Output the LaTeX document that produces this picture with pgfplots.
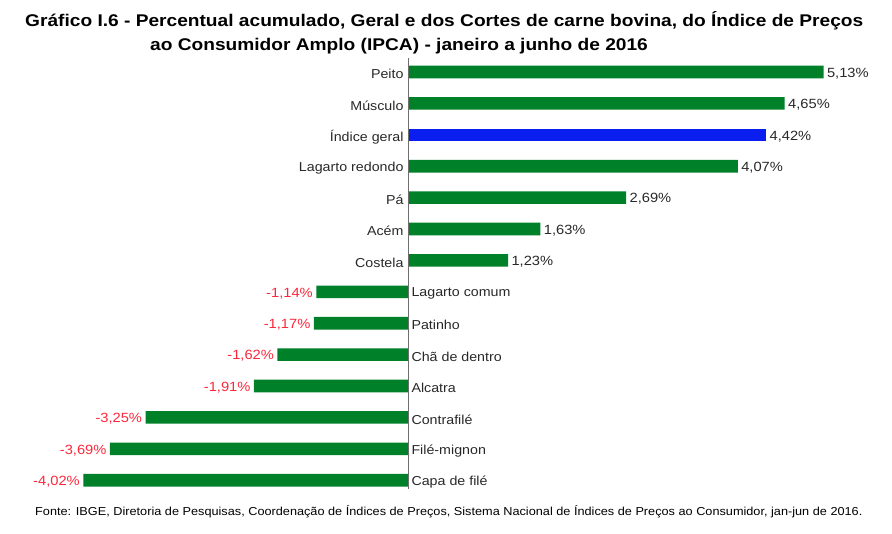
\documentclass[border=0pt]{standalone}
\usepackage{fontspec}
\setmainfont[FakeStretch=1.1]{Liberation Sans}
\newfontfamily\titlefont[FakeStretch=1.13]{Liberation Sans}
\usepackage{pgfplots}
\pgfplotsset{compat=1.18}
\definecolor{barGreen}{RGB}{0,128,40}
\definecolor{barBlue}{RGB}{10,30,240}
\definecolor{negRed}{RGB}{250,40,60}
\definecolor{txt}{RGB}{40,40,40}
\definecolor{axgray}{RGB}{110,110,110}
\begin{document}
\begin{tikzpicture}
\begin{axis}[
  width=892bp, height=534bp, scale only axis,
  xmin=-5.0494, xmax=5.9765,
  ymin=-2.293, ymax=14.713, y dir=reverse,
  hide axis, clip=false,
  font=\fontsize{13}{15}\selectfont,
]
% positive green bars
\addplot[xbar, bar shift=0pt, bar width=12.6bp, fill=barGreen, draw=none,
  nodes near coords, point meta=explicit symbolic,
  every node near coord/.append style={anchor=west, text=txt, yshift=-1.5bp, font=\fontsize{13.4}{15}\selectfont}]
  coordinates {(5.13,0) [5{,}13\%] (4.65,1) [4{,}65\%] (4.07,3) [4{,}07\%]
               (2.69,4) [2{,}69\%] (1.63,5) [1{,}63\%] (1.23,6) [1{,}23\%]};
% general index (blue)
\addplot[xbar, bar shift=0pt, bar width=12.6bp, fill=barBlue, draw=none,
  nodes near coords, point meta=explicit symbolic,
  every node near coord/.append style={anchor=west, text=txt, yshift=-1.5bp, font=\fontsize{13.4}{15}\selectfont}]
  coordinates {(4.42,2) [4{,}42\%]};
% negative green bars
\addplot[xbar, bar shift=0pt, bar width=12.6bp, fill=barGreen, draw=none,
  nodes near coords, point meta=explicit symbolic,
  every node near coord/.append style={anchor=east, text=negRed, yshift=-1.5bp, font=\fontsize{13.4}{15}\selectfont}]
  coordinates {(-1.14,7) [-1{,}14\%] (-1.17,8) [-1{,}17\%] (-1.62,9) [-1{,}62\%]
               (-1.91,10) [-1{,}91\%] (-3.25,11) [-3{,}25\%] (-3.69,12) [-3{,}69\%]
               (-4.02,13) [-4{,}02\%]};
% category labels, left of the axis line
\addplot[draw=none, mark=none, nodes near coords, point meta=explicit symbolic,
  every node near coord/.append style={anchor=east, text=txt, xshift=-1.5bp, yshift=-2bp, font=\fontsize{13}{15}\selectfont}]
  coordinates {(0,0) [Peito] (0,1) [Músculo] (0,2) [Índice geral] (0,3) [Lagarto redondo]
               (0,4) [Pá] (0,5) [Acém] (0,6) [Costela]};
% category labels, right of the axis line
\addplot[draw=none, mark=none, nodes near coords, point meta=explicit symbolic,
  every node near coord/.append style={anchor=west, text=txt, xshift=-0.5bp, yshift=-2bp, font=\fontsize{13}{15}\selectfont}]
  coordinates {(0,7) [Lagarto comum] (0,8) [Patinho] (0,9) [Chã de dentro] (0,10) [Alcatra]
               (0,11) [Contrafilé] (0,12) [Filé-mignon] (0,13) [Capa de filé]};
\draw[axgray, line width=1.3bp] (axis cs:0,-0.446) -- (axis cs:0,13.28);
\node[anchor=west, inner sep=0pt, font=\titlefont\bfseries\fontsize{17}{20}\selectfont]
  at (axis cs:-4.7404,-1.62) {Gráfico I.6 - Percentual acumulado, Geral e dos Cortes de carne bovina, do Índice de Preços};
\node[anchor=west, inner sep=0pt, font=\titlefont\bfseries\fontsize{17}{20}\selectfont]
  at (axis cs:-3.1953,-0.83) {ao Consumidor Amplo (IPCA) - janeiro a junho de 2016};
\node[anchor=west, inner sep=0pt, font=\fontsize{11.6}{13}\selectfont]
  at (axis cs:-4.6168,14.013) {Fonte: IBGE, Diretoria de Pesquisas, Coordenação de Índices de Preços, Sistema Nacional de Índices de Preços ao Consumidor, jan-jun de 2016.};
\coordinate (BL) at (rel axis cs:0,0);
\coordinate (TR) at (rel axis cs:1,1);
\end{axis}
\pgfresetboundingbox
\path[use as bounding box] (BL) rectangle (TR);
\end{tikzpicture}
\end{document}
